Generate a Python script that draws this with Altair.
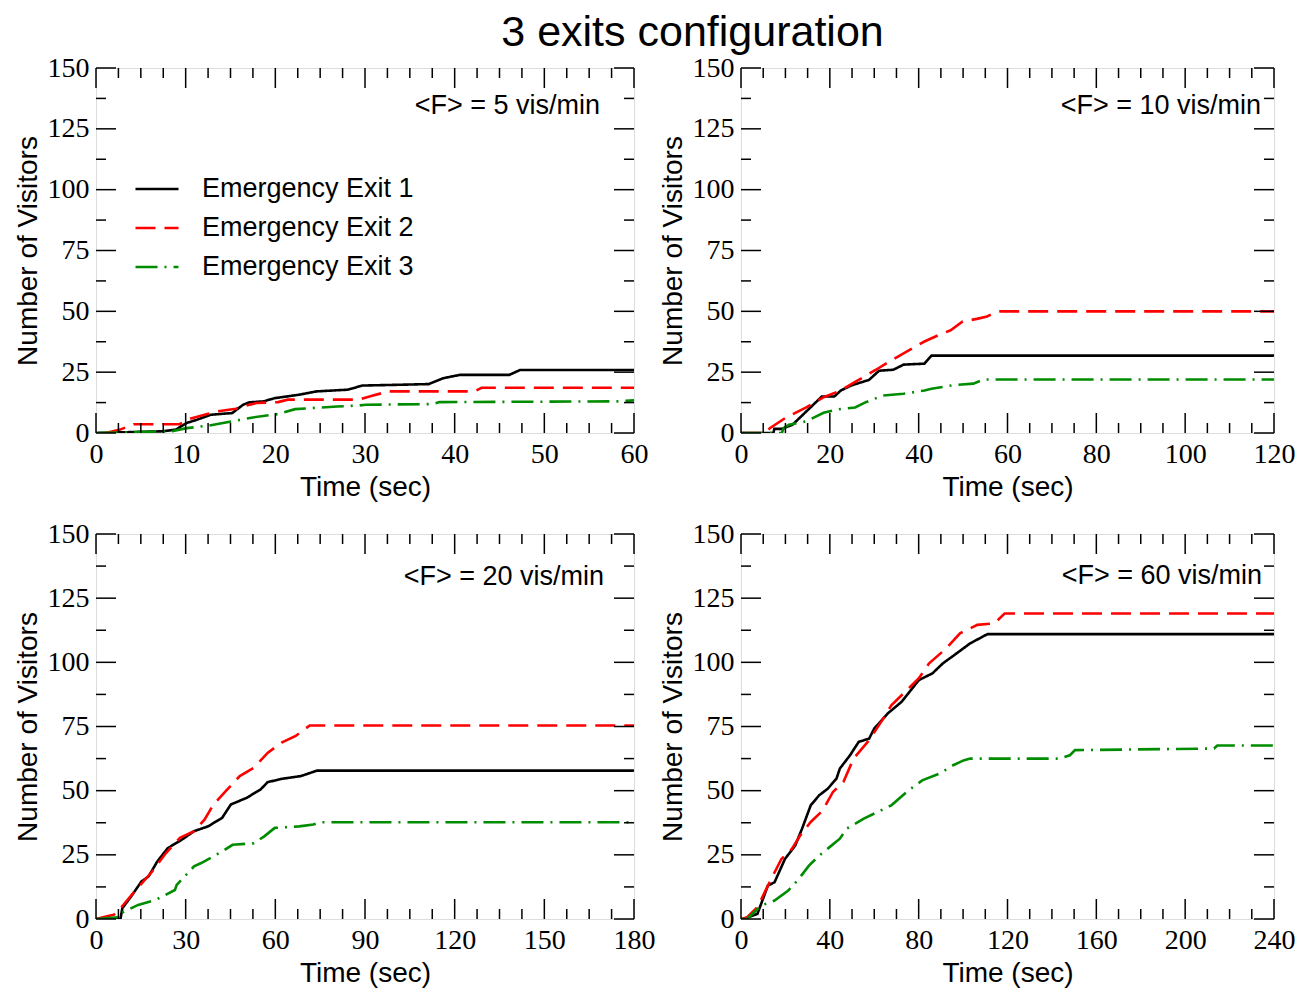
import altair as alt
import pandas as pd

SERIES = ["Emergency Exit 1", "Emergency Exit 2", "Emergency Exit 3"]
COLORS = ["#000000", "#ff0000", "#008c00"]
DASHES = [[1, 0], [20, 9], [22, 7, 2, 7]]
TITLE = "3 exits configuration"
ANNOTATIONS = ["<F> = 5 vis/min", "<F> = 10 vis/min", "<F> = 20 vis/min", "<F> = 60 vis/min"]
X_MAX = [60, 120, 180, 240]
X_MAJOR_STEP = [10, 20, 30, 40]
X_MINOR_STEP = [2.5, 5, 7.5, 10]
Y_MAX = 150
Y_MAJOR = [0, 25, 50, 75, 100, 125, 150]
Y_MINOR = [12.5, 37.5, 62.5, 87.5, 112.5, 137.5]

# Panel 1: <F> = 5 vis/min
P1_E1_T = [0, 7.4, 8.9, 10.1, 11.3, 12.8, 15.2, 16.4, 17.1, 18.7, 19.9, 22.6, 24.6, 28.1, 29.7, 33.6, 37.1, 38.7, 40.6, 46.1, 47.3, 60]
P1_E1_V = [0, 0.7, 1.4, 4.1, 5.5, 7.5, 8.2, 11.6, 12.6, 13, 14.3, 15.7, 17.1, 17.8, 19.5, 19.8, 20.1, 22.5, 23.9, 23.9, 25.9, 25.9]
P1_E2_T = [1.1, 2.7, 4.2, 9.3, 10.5, 12.1, 13.6, 15.6, 16.8, 17.9, 20.3, 21.4, 29.3, 30.8, 32.6, 42.2, 43, 60]
P1_E2_V = [0, 1.4, 3.6, 3.6, 5.9, 7.5, 8.9, 10, 11.3, 12.3, 12.7, 13.7, 13.7, 15.3, 17.1, 17.1, 18.6, 18.6]
P1_E3_T = [0, 8.5, 10.1, 12.5, 15.2, 17.5, 20.3, 22.2, 26.9, 29.3, 30.1, 37.5, 38.3, 58.2, 60]
P1_E3_V = [0, 0.7, 2, 3, 4.8, 6.4, 7.8, 9.8, 10.9, 11.3, 11.6, 11.9, 12.7, 13, 13.4]

# Panel 2: <F> = 10 vis/min
P2_E1_T = [0, 7.3, 7.5, 9.2, 11.6, 18.2, 21, 22.5, 24.9, 28.8, 31.1, 34.3, 36.6, 41.3, 42.9, 120]
P2_E1_V = [0, 0, 1.7, 1.7, 3.4, 15, 15, 17.5, 19.6, 21.8, 25.6, 26, 28.1, 28.5, 31.8, 31.8]
P2_E2_T = [0, 5.5, 6.5, 10, 14.7, 18.6, 22.5, 25.7, 30.4, 33.5, 39, 41.3, 45.2, 47.2, 49.9, 53.1, 55.4, 57.4, 58.5, 120]
P2_E2_V = [0, 0, 2, 6.2, 10.5, 14.7, 17.5, 21, 26, 29.5, 35.2, 37.6, 40.8, 42.2, 45.8, 46.9, 47.9, 49.7, 50, 50]
P2_E3_T = [0, 9.2, 9.6, 10.8, 14.7, 18.6, 21.8, 25.7, 28, 31.9, 36.6, 41.3, 42.9, 47.6, 52.3, 54.6, 120]
P2_E3_V = [0, 0, 2, 3.4, 4.8, 8.3, 9.7, 10.5, 12.6, 15.4, 16.1, 17.5, 18.2, 19.6, 20.3, 22, 22]

# Panel 3: <F> = 20 vis/min
P3_E1_T = [0, 8.2, 8.8, 11.7, 15.2, 17.6, 20.5, 24, 28.7, 32.8, 37.5, 42.2, 45.1, 50.4, 55.1, 57.4, 62.1, 68.6, 73.9, 180]
P3_E1_V = [0, 0, 4.2, 8.7, 14.6, 16.6, 22.4, 27.6, 30.9, 34.2, 36.1, 39.4, 44.6, 47.2, 50.5, 53.3, 54.6, 55.7, 57.8, 57.8]
P3_E2_T = [0, 2.3, 5.9, 8.2, 12.9, 18.8, 23.4, 28.1, 32.8, 36.3, 39.3, 43.4, 48.1, 52.8, 57.5, 62.1, 66.8, 71.5, 180]
P3_E2_V = [0, 0.7, 1.6, 4.2, 10.7, 18.5, 25.7, 31.6, 34.2, 38.7, 44.6, 49.8, 55.7, 58.9, 64.8, 68.7, 71.3, 75.4, 75.4]
P3_E3_T = [0, 7.6, 8.2, 14.1, 19.9, 26.4, 27, 32.8, 35.2, 42.2, 45.7, 52.8, 56.3, 59.8, 68, 72.7, 75, 180]
P3_E3_V = [0, 0.7, 2.2, 5.5, 7.4, 11.3, 13.3, 20.5, 21.8, 26.3, 28.9, 29.5, 32.2, 35.5, 36.1, 36.8, 37.7, 37.7]

# Panel 4: <F> = 60 vis/min
P4_E1_T = [0, 1.2, 7.4, 12.1, 15.1, 19.8, 24.4, 27.5, 31.4, 35.2, 39.1, 43, 44.5, 49.1, 53, 57.7, 60, 66.1, 72.3, 80.1, 86.2, 90.9, 97.1, 103.2, 111, 240]
P4_E1_V = [0, 0, 2, 13, 14.3, 23.4, 28.6, 35.2, 44.3, 48.2, 50.8, 54.7, 58.6, 63.8, 69, 70.3, 74.2, 80.1, 84.6, 93.1, 95.7, 99.6, 103.5, 107.4, 111, 111]
P4_E2_T = [0, 2.8, 7.4, 13.6, 18.2, 22.9, 26.7, 31.4, 36.8, 41.4, 46.1, 50.7, 57.7, 63.1, 67.7, 73.9, 80.1, 84.7, 92.5, 98.6, 106.4, 114.1, 118.7, 240]
P4_E2_V = [0, 0.7, 4.6, 15.6, 23.4, 27.3, 32.6, 37.8, 42.3, 49.5, 53.4, 62.5, 69.7, 76.8, 83.3, 88.5, 93.8, 99.6, 105.5, 111.3, 114.6, 115.2, 119, 119]
P4_E3_T = [0, 2.8, 9, 15.1, 21.3, 26, 30.6, 35.2, 39.9, 44.5, 47.6, 55.3, 61.5, 67.7, 75.4, 81.6, 89.3, 95.5, 100.2, 103.2, 143.4, 148.1, 150.4, 213, 214.5, 240]
P4_E3_V = [0, 0, 5.2, 7.2, 11.1, 15.6, 20.8, 24.7, 28, 31.3, 35.2, 39.1, 41.7, 44.3, 50.1, 54, 56.6, 59.9, 61.8, 62.5, 62.5, 63.8, 65.8, 66.4, 67.6, 67.6]

SANS = "Liberation Sans"
SERIF = "Liberation Serif"
MAJOR_LEN = 20
MINOR_LEN = 10


def frange(step, stop):
    out = []
    k = 0
    while k * step <= stop + 1e-9:
        out.append(round(k * step, 4))
        k += 1
    return out


def panel(idx, series_t, series_v, width, height, ann_right, ann_y, show_legend):
    xmax = X_MAX[idx]
    majors = frange(X_MAJOR_STEP[idx], xmax)
    minors = [m for m in frange(X_MINOR_STEP[idx], xmax) if m not in majors]

    rows = []
    for name, ts, vs in zip(SERIES, series_t, series_v):
        for t, v in zip(ts, vs):
            rows.append({"t": t, "v": v, "series": name})
    df = pd.DataFrame(rows)

    xaxis = alt.Axis(values=majors, title="Time (sec)", ticks=False, domain=False, grid=False,
                     labelFont=SERIF, labelFontSize=28, labelColor="black", labelPadding=7,
                     labelFlush=False, labelOverlap=False, titleFont=SANS, titleFontSize=28,
                     titleFontWeight="normal", titleColor="black", titlePadding=5, format="d")
    yaxis = alt.Axis(values=Y_MAJOR, title="Number of Visitors", ticks=False, domain=False, grid=False,
                     labelFont=SERIF, labelFontSize=28, labelColor="black", labelPadding=7,
                     labelFlush=False, labelOverlap=False, titleFont=SANS, titleFontSize=28,
                     titleFontWeight="normal", titleColor="black", titlePadding=5, format="d")
    xs = alt.Scale(domain=[0, xmax], nice=False, zero=True)
    ys = alt.Scale(domain=[0, Y_MAX], nice=False, zero=True)
    X = alt.X("t:Q", scale=xs, axis=xaxis)
    Y = alt.Y("v:Q", scale=ys, axis=yaxis)

    if show_legend:
        leg = alt.Legend(orient="none", legendX=38, legendY=106, title=None, symbolType="stroke",
                         symbolSize=1850, symbolStrokeWidth=2.5, labelFont=SANS, labelFontSize=27,
                         labelColor="black", labelOffset=22, rowPadding=9, clipHeight=30,
                         labelLimit=0, padding=0)
    else:
        leg = None

    color = alt.Color("series:N", scale=alt.Scale(domain=SERIES, range=COLORS), legend=leg)
    dash = alt.StrokeDash("series:N", scale=alt.Scale(domain=SERIES, range=DASHES), legend=leg)

    lines = alt.Chart(df).mark_line(strokeWidth=2.6, clip=True).encode(
        x=X, y=Y, color=color, strokeDash=dash, order="t:Q")

    layers = [lines]
    xmaj = pd.DataFrame({"t": majors})
    xmin = pd.DataFrame({"t": minors})
    ymaj = pd.DataFrame({"v": Y_MAJOR})
    ymin = pd.DataFrame({"v": Y_MINOR})
    for d, ln in ((xmaj, MAJOR_LEN), (xmin, MINOR_LEN)):
        layers.append(alt.Chart(d).mark_rule(color="black", strokeWidth=1.5).encode(
            x=X, y=alt.value(height), y2=alt.value(height - ln)))
        layers.append(alt.Chart(d).mark_rule(color="black", strokeWidth=1.5).encode(
            x=X, y=alt.value(0), y2=alt.value(ln)))
    for d, ln in ((ymaj, MAJOR_LEN), (ymin, MINOR_LEN)):
        layers.append(alt.Chart(d).mark_rule(color="black", strokeWidth=1.5).encode(
            y=Y, x=alt.value(0), x2=alt.value(ln)))
        layers.append(alt.Chart(d).mark_rule(color="black", strokeWidth=1.5).encode(
            y=Y, x=alt.value(width), x2=alt.value(width - ln)))

    ann = alt.Chart(pd.DataFrame({"label": [ANNOTATIONS[idx]]})).mark_text(
        align="right", baseline="middle", font=SANS, fontSize=27, color="black").encode(
        x=alt.value(width - ann_right), y=alt.value(ann_y), text="label:N")
    layers.append(ann)

    return alt.layer(*layers).properties(width=width, height=height)


p1 = panel(0, [P1_E1_T, P1_E2_T, P1_E3_T], [P1_E1_V, P1_E2_V, P1_E3_V], 538, 365, 34, 38, True)
p2 = panel(1, [P2_E1_T, P2_E2_T, P2_E3_T], [P2_E1_V, P2_E2_V, P2_E3_V], 533, 365, 13, 38, False)
p3 = panel(2, [P3_E1_T, P3_E2_T, P3_E3_T], [P3_E1_V, P3_E2_V, P3_E3_V], 538, 385, 30, 43, False)
p4 = panel(3, [P4_E1_T, P4_E2_T, P4_E3_T], [P4_E1_V, P4_E2_V, P4_E3_V], 533, 385, 12, 42, False)

chart = alt.concat(p1, p2, p3, p4, columns=2, spacing=alt.RowColnumber(row=17, column=2)).properties(
    title=alt.TitleParams(TITLE, font=SANS, fontSize=43, fontWeight="normal", color="black",
                          anchor="middle", offset=-1, dx=38),
    padding={"left": 5, "top": 3, "right": 5, "bottom": 5}
).resolve_scale(color="independent", strokeDash="independent").resolve_legend(
    color="independent", strokeDash="independent"
).configure_view(stroke="black", strokeWidth=1.5).configure(background="white")

chart.save("out.html", embed_options={"renderer": "svg", "actions": False})
